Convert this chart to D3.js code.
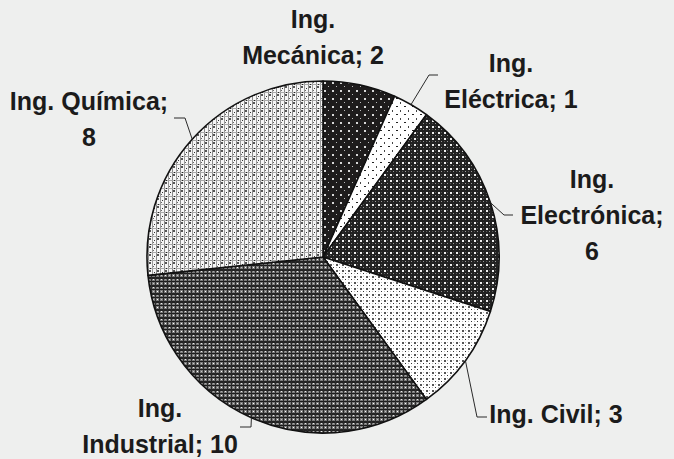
<!DOCTYPE html>
<html>
<head>
<meta charset="utf-8">
<script src="https://cdn.jsdelivr.net/npm/d3@7"></script>
<style>
  body { margin: 0; background: #eeefee; }
  svg { display: block; }
  .lbl { font-family: "Liberation Sans", Arial, sans-serif; font-weight: bold; font-size: 25px; fill: #1b1b1b; }
  .leader { fill: none; stroke: #2a2a2a; stroke-width: 1; }
</style>
</head>
<body>
<script>
// chart data
var categories = ["Ing. Mecánica", "Ing. Eléctrica", "Ing. Electrónica", "Ing. Civil", "Ing. Industrial", "Ing. Química"];
var values = [2, 1, 6, 3, 10, 8];

// label line breaks, as in the original
var labelLines = [
    ["Ing.", "Mecánica; 2"],
    ["Ing.", "Eléctrica; 1"],
    ["Ing.", "Electrónica;", "6"],
    ["Ing. Civil; 3"],
    ["Ing.", "Industrial; 10"],
    ["Ing. Química;", "8"]
];

var width = 674,
    height = 459,
    cx = 323,
    cy = 257,
    radius = 176;

// label placement: text centre x, first baseline y, leader elbow + end (null = no leader)
var layout = [
    {x: 313, y: 28, elbow: null},
    {x: 511, y: 72, elbow: [429, 75], end: [438, 75]},
    {x: 592, y: 188, elbow: [504, 215], end: [513, 215]},
    {x: 556, y: 423, elbow: [477, 417], end: [487, 417]},
    {x: 160, y: 417, elbow: [251, 427], end: [240, 427]},
    {x: 89, y: 110, elbow: [185, 118], end: [174, 118]}
];

var svg = d3.select("body")
    .append("svg")
    .attr("width", width)
    .attr("height", height);

svg.append("rect")
    .attr("width", width)
    .attr("height", height)
    .attr("fill", "#eeefee");

//pattern fills, one per slice
var defs = svg.append("defs");

function makePattern(id, size, bg, rects){
    var p = defs.append("pattern")
        .attr("id", id)
        .attr("patternUnits", "userSpaceOnUse")
        .attr("width", size)
        .attr("height", size);
    p.append("rect").attr("width", size).attr("height", size).attr("fill", bg);
    rects.forEach(function(r){
        p.append("rect")
            .attr("x", r[0]).attr("y", r[1])
            .attr("width", r[2]).attr("height", r[3])
            .attr("fill", r[4]);
    });
};

makePattern("p0", 8, "#1e1c1c", [[1,1,2,2,"#d8d8d8"], [5,5,1,1,"#bbbbbb"]]);
makePattern("p1", 8, "#ffffff", [[1,1,2,1,"#222"], [5,5,1,2,"#444"]]);
makePattern("p2", 6, "#222222", [[1,1,2,2,"#f0f0f0"], [4,4,1,1,"#999"], [1,4,1,1,"#555"], [4,1,1,1,"#555"]]);
makePattern("p3", 6, "#ffffff", [[1,1,2,2,"#555"], [4,4,1,1,"#333"], [4,1,1,1,"#bbb"], [1,4,1,1,"#bbb"]]);
makePattern("p4", 8, "#7a7a7a", [[0,0,8,1,"#1a1a1a"], [0,4,8,2,"#222"], [0,0,1,8,"#2a2a2a"], [4,0,1,8,"#2a2a2a"], [2,2,1,1,"#ffffff"], [6,6,1,1,"#f0f0f0"], [6,2,1,1,"#c8c8c8"], [2,6,1,1,"#aaa"]]);
makePattern("p5", 8, "#f6f6f6", [[1,0,1,8,"#8a8a8a"], [5,0,1,8,"#9a9a9a"], [0,3,8,1,"#aaaaaa"], [2,5,2,2,"#555"], [3,3,1,1,"#222"], [7,7,1,1,"#333"], [6,1,1,1,"#666"]]);

var pieData = d3.pie()
    .sort(null)
    .value(function(d){ return d; })(values);

var arc = d3.arc()
    .innerRadius(0)
    .outerRadius(radius);

var g = svg.append("g")
    .attr("transform", "translate(" + cx + "," + cy + ")");

g.selectAll(".slice")
    .data(pieData)
    .enter()
    .append("path")
    .attr("class", "slice")
    .attr("d", arc)
    .attr("fill", function(d, i){ return "url(#p" + i + ")"; })
    .attr("stroke", "#111")
    .attr("stroke-width", 1.6)
    .attr("stroke-linejoin", "round");

//leader lines from slice edge to label
pieData.forEach(function(d, i){
    var L = layout[i];
    if (!L.elbow) return;
    var a = (d.startAngle + d.endAngle) / 2;
    var px = cx + radius * Math.sin(a),
        py = cy - radius * Math.cos(a);
    svg.append("polyline")
        .attr("class", "leader")
        .attr("points", [[px, py], L.elbow, L.end].map(function(p){ return p.join(","); }).join(" "));
});

//labels
labelLines.forEach(function(lines, i){
    var L = layout[i];
    var t = svg.append("text")
        .attr("class", "lbl")
        .attr("text-anchor", "middle")
        .attr("x", L.x)
        .attr("y", L.y);
    lines.forEach(function(s, k){
        t.append("tspan")
            .attr("x", L.x)
            .attr("dy", k == 0 ? 0 : 36)
            .text(s);
    });
});
</script>
</body>
</html>
